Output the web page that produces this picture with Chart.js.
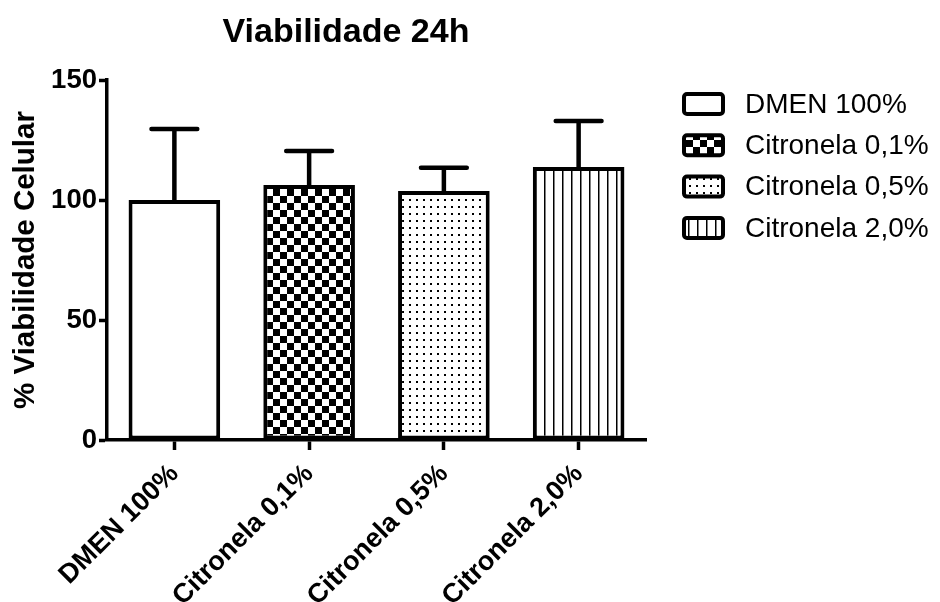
<!DOCTYPE html>
<html>
<head>
<meta charset="utf-8">
<title>Viabilidade 24h</title>
<script src="https://cdn.jsdelivr.net/npm/chart.js@4.4.1/dist/chart.umd.min.js"></script>
<style>
  html, body { margin: 0; padding: 0; background: #fff; }
  #caixa { width: 940px; height: 602px; }
</style>
</head>
<body>
<div id="caixa"><canvas id="grafico" width="940" height="602"></canvas></div>
<script>
// dados
const categorias = ['DMEN 100%', 'Citronela 0,1%', 'Citronela 0,5%', 'Citronela 2,0%'];
const medias = [100, 106.3, 103.8, 113.8];
const desvios = [29.6, 14.1, 9.6, 19.1];
const ticksY = [0, 50, 100, 150];

const fonte = '"Liberation Sans", Arial, sans-serif';

// padrões de preenchimento das barras
function padrao(tipo) {
    const c = document.createElement('canvas');
    const g = c.getContext('2d');
    if (tipo === 'xadrez') {
        c.width = 14; c.height = 14;
        g.fillStyle = '#fff'; g.fillRect(0, 0, 14, 14);
        g.fillStyle = '#000'; g.fillRect(0, 0, 7, 7); g.fillRect(7, 7, 7, 7);
    } else if (tipo === 'pontos') {
        c.width = 7; c.height = 7;
        g.fillStyle = '#fff'; g.fillRect(0, 0, 7, 7);
        g.fillStyle = '#000'; g.fillRect(3, 3, 2, 2);
    } else {
        c.width = 9; c.height = 4;
        g.fillStyle = '#fff'; g.fillRect(0, 0, 9, 4);
        g.fillStyle = '#000'; g.fillRect(4, 0, 1.5, 4);
    }
    return g.createPattern(c, 'repeat');
}
const preenchimentos = ['#fff', padrao('xadrez'), padrao('pontos'), padrao('linhas')];

// barras de erro (só para cima, estilo GraphPad)
const barrasErro = {
    id: 'barrasErro',
    afterDatasetsDraw(chart) {
        const ctx = chart.ctx;
        const y = chart.scales.y;
        ctx.save();
        ctx.strokeStyle = '#000';
        ctx.lineWidth = 4.5;
        ctx.lineCap = 'round';
        chart.getDatasetMeta(0).data.forEach((barra, i) => {
            const topo = y.getPixelForValue(medias[i] + desvios[i]);
            const meio = barra.width / 4;
            ctx.beginPath();
            ctx.moveTo(barra.x, barra.y);
            ctx.lineTo(barra.x, topo);
            ctx.moveTo(barra.x - meio, topo);
            ctx.lineTo(barra.x + meio, topo);
            ctx.stroke();
        });
        ctx.restore();
    }
};

// título e legenda desenhados à mão para ficarem no mesmo lugar do original
const tituloLegenda = {
    id: 'tituloLegenda',
    afterDraw(chart) {
        const ctx = chart.ctx;
        const area = chart.chartArea;
        ctx.save();
        ctx.fillStyle = '#000';
        ctx.font = 'bold 34px ' + fonte;
        ctx.textAlign = 'center';
        ctx.textBaseline = 'alphabetic';
        ctx.fillText('Viabilidade 24h', 346, 42);

        ctx.font = '28px ' + fonte;
        ctx.textAlign = 'left';
        ctx.textBaseline = 'middle';
        const x0 = area.right + 38;
        categorias.forEach((nome, i) => {
            const cy = 104 + i * 41.3;
            ctx.beginPath();
            ctx.roundRect(x0, cy - 10, 39, 20, 3);
            ctx.fillStyle = preenchimentos[i];
            ctx.fill();
            ctx.lineWidth = 4;
            ctx.strokeStyle = '#000';
            ctx.stroke();
            ctx.fillStyle = '#000';
            ctx.fillText(nome, x0 + 61, cy + 1);
        });
        ctx.restore();
    }
};

new Chart(document.getElementById('grafico'), {
    type: 'bar',
    data: {
        labels: categorias,
        datasets: [{
            data: medias,
            backgroundColor: preenchimentos,
            borderColor: '#000',
            borderWidth: 4,
            borderSkipped: false,
            barPercentage: 0.68,
            categoryPercentage: 1
        }]
    },
    options: {
        responsive: false,
        animation: false,
        layout: { padding: { top: 80, right: 294, left: 0, bottom: 0 } },
        plugins: {
            legend: { display: false },
            title: { display: false },
            tooltip: { enabled: false }
        },
        scales: {
            x: {
                offset: true,
                grid: { drawOnChartArea: false, offset: false, tickLength: 10, tickWidth: 3.5, tickColor: '#000' },
                border: { color: '#000', width: 3.5 },
                ticks: {
                    color: '#000',
                    font: { family: fonte, size: 27, weight: 'bold' },
                    minRotation: 45,
                    maxRotation: 45,
                    padding: 8
                },
                afterFit(s) { s.height = 162; }
            },
            y: {
                min: 0,
                max: 150,
                afterBuildTicks(s) { s.ticks = ticksY.map(v => ({ value: v })); },
                grid: { drawOnChartArea: false, tickLength: 8, tickWidth: 3.5, tickColor: '#000' },
                border: { color: '#000', width: 3.5 },
                ticks: {
                    color: '#000',
                    font: { family: fonte, size: 27.5, weight: 'bold' },
                    padding: 2
                },
                title: {
                    display: true,
                    text: '% Viabilidade Celular',
                    color: '#000',
                    font: { family: fonte, size: 29.5, weight: 'bold' },
                    padding: { top: 8, bottom: 0 }
                },
                afterFit(s) { s.width = 107; }
            }
        }
    },
    plugins: [barrasErro, tituloLegenda]
});
</script>
</body>
</html>
